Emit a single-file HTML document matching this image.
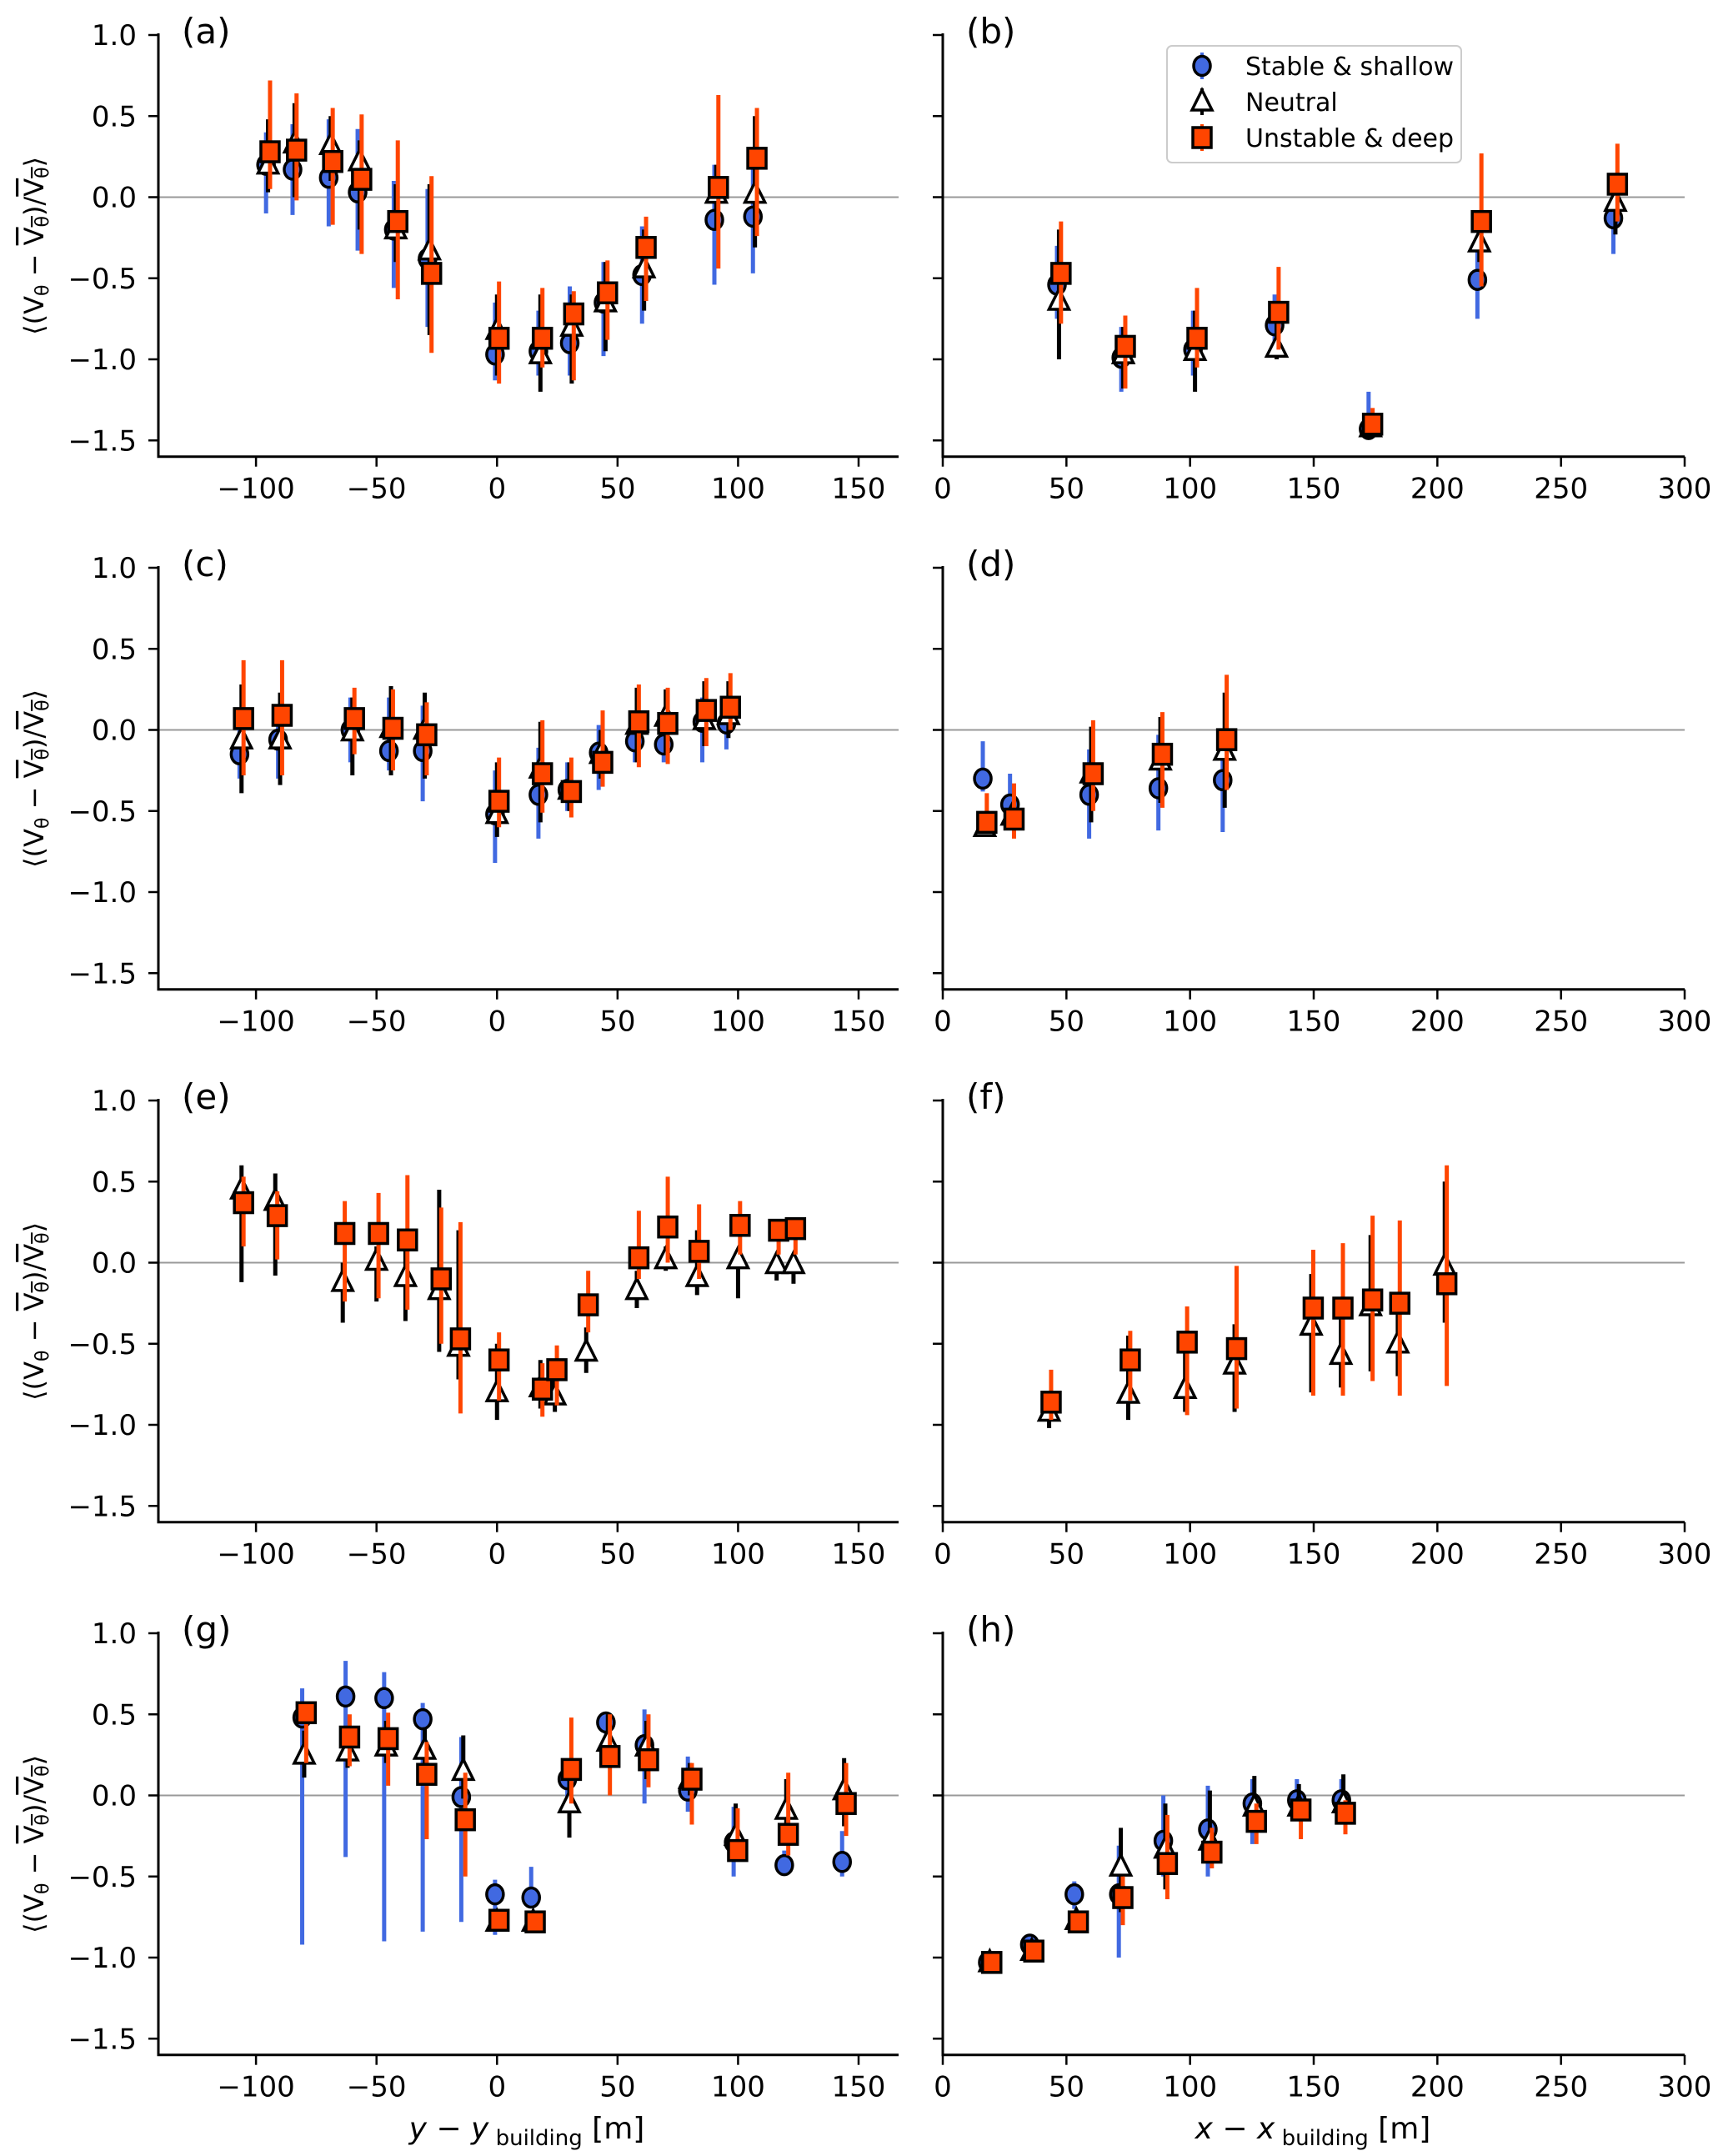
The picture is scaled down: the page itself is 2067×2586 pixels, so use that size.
<!DOCTYPE html>
<html><head><meta charset="utf-8"><style>
html,body{margin:0;padding:0;background:#fff}
svg{display:block;font-family:"DejaVu Sans","Liberation Sans",sans-serif}
</style></head><body>
<svg id="fig" width="2067" height="2586" viewBox="0 0 2067 2586" xmlns="http://www.w3.org/2000/svg"></svg>
<script>
// ---- data arrays ----
const aX = [-95,-84,-69,-57,-42,-28,0,18,31,45,61,91,107];
const aStY = [0.20,0.17,0.12,0.03,-0.20,-0.38,-0.97,-0.95,-0.90,-0.65,-0.48,-0.14,-0.12];
const aStLo = [-0.10,-0.11,-0.18,-0.33,-0.56,-0.80,-1.13,-1.10,-1.10,-0.98,-0.78,-0.54,-0.47];
const aStHi = [0.40,0.45,0.48,0.42,0.10,0.05,-0.65,-0.70,-0.55,-0.40,-0.18,0.20,0.20];
const aNeY = [0.20,0.33,0.32,0.22,-0.20,-0.33,-0.82,-0.97,-0.80,-0.65,-0.44,0.02,0.02];
const aNeLo = [0.03,0.0,0.10,-0.20,-0.40,-0.85,-1.10,-1.20,-1.15,-0.95,-0.70,-0.20,-0.31];
const aNeHi = [0.48,0.58,0.50,0.35,0.08,0.08,-0.60,-0.60,-0.60,-0.40,-0.20,0.20,0.50];
const aUnY = [0.28,0.29,0.22,0.11,-0.15,-0.47,-0.87,-0.87,-0.72,-0.59,-0.31,0.06,0.24];
const aUnLo = [0.05,-0.02,-0.17,-0.35,-0.63,-0.96,-1.15,-1.05,-1.13,-0.88,-0.64,-0.44,-0.24];
const aUnHi = [0.72,0.64,0.55,0.51,0.35,0.13,-0.52,-0.56,-0.58,-0.39,-0.12,0.63,0.55];

const bX = [47,73,102,135,173,217,272];
const bStY = [-0.54,-0.99,-0.94,-0.79,-1.43,-0.51,-0.13];
const bStLo = [-0.75,-1.20,-1.10,-0.90,-1.45,-0.75,-0.35];
const bStHi = [-0.30,-0.80,-0.70,-0.60,-1.20,-0.25,0.05];
const bNeY = [-0.64,-0.97,-0.95,-0.93,-1.42,-0.28,-0.03];
const bNeLo = [-1.00,-1.18,-1.20,-1.00,-1.45,-0.40,-0.23];
const bNeHi = [-0.20,-0.80,-0.70,-0.70,-1.40,-0.10,0.05];
const bUnY = [-0.47,-0.92,-0.87,-0.71,-1.40,-0.15,0.08];
const bUnLo = [-0.78,-1.18,-1.05,-0.94,-1.45,-0.55,-0.15];
const bUnHi = [-0.15,-0.73,-0.56,-0.43,-1.30,0.27,0.33];

const cX = [-106,-90,-60,-44,-30,0,18,30,43,58,70,86,96];
const cStY = [-0.15,-0.06,0.0,-0.13,-0.13,-0.52,-0.40,-0.37,-0.14,-0.07,-0.09,0.05,0.04];
const cStLo = [-0.30,-0.30,-0.20,-0.25,-0.44,-0.82,-0.67,-0.50,-0.37,-0.20,-0.20,-0.20,-0.12];
const cStHi = [0.0,0.05,0.20,0.20,0.15,-0.25,-0.11,-0.20,0.03,0.10,0.10,0.20,0.15];
const cNeY = [-0.06,-0.06,-0.01,0.01,0.0,-0.52,-0.24,-0.37,-0.15,0.03,0.08,0.06,0.09];
const cNeLo = [-0.39,-0.34,-0.28,-0.28,-0.30,-0.66,-0.57,-0.50,-0.30,-0.20,-0.15,-0.10,-0.05];
const cNeHi = [0.28,0.23,0.20,0.27,0.23,-0.20,0.05,-0.20,0.0,0.26,0.25,0.30,0.30];
const cUnY = [0.07,0.09,0.07,0.01,-0.03,-0.44,-0.27,-0.38,-0.20,0.05,0.04,0.12,0.14];
const cUnLo = [-0.28,-0.28,-0.15,-0.25,-0.28,-0.60,-0.51,-0.54,-0.35,-0.23,-0.21,-0.10,0.0];
const cUnHi = [0.43,0.43,0.26,0.25,0.17,-0.17,0.06,-0.17,0.12,0.28,0.26,0.32,0.35];

const dX = [17,28,60,88,114];
const dStY = [-0.30,-0.46,-0.40,-0.36,-0.31];
const dStLo = [-0.38,-0.60,-0.67,-0.62,-0.63];
const dStHi = [-0.07,-0.27,-0.12,-0.03,0.0];
const dNeY = [-0.60,-0.53,-0.27,-0.19,-0.13];
const dNeLo = [-0.62,-0.60,-0.57,-0.45,-0.48];
const dNeHi = [-0.58,-0.48,0.02,0.08,0.23];
const dUnY = [-0.57,-0.55,-0.27,-0.15,-0.06];
const dUnLo = [-0.62,-0.67,-0.50,-0.48,-0.37];
const dUnHi = [-0.39,-0.33,0.06,0.11,0.34];

const eX = [-106,-92,-64,-50,-38,-24,-16,0,18,24,37,58,70,83,100,116,123];
const eNeY = [0.45,0.38,-0.12,0.01,-0.09,-0.17,-0.52,-0.80,-0.77,-0.82,-0.55,-0.17,0.02,-0.09,0.02,-0.01,-0.01];
const eNeLo = [-0.12,-0.08,-0.37,-0.24,-0.36,-0.55,-0.72,-0.97,-0.90,-0.92,-0.68,-0.28,-0.05,-0.20,-0.22,-0.11,-0.13];
const eNeHi = [0.60,0.55,0.0,0.10,0.10,0.45,0.20,-0.50,-0.60,-0.70,-0.40,-0.05,0.10,0.20,0.0,0.05,0.02];
const eUnY = [0.37,0.29,0.18,0.18,0.14,-0.10,-0.47,-0.60,-0.78,-0.66,-0.26,0.03,0.22,0.07,0.23,0.20,0.21];
const eUnLo = [0.10,0.02,-0.24,-0.22,-0.29,-0.50,-0.93,-0.85,-0.95,-0.88,-0.43,-0.10,0.0,-0.10,0.05,0.05,0.05];
const eUnHi = [0.53,0.44,0.38,0.43,0.54,0.34,0.25,-0.43,-0.62,-0.51,-0.05,0.32,0.53,0.36,0.38,0.25,0.25];

const fX = [43,75,98,118,149,161,173,184,203];
const fNeY = [-0.92,-0.81,-0.78,-0.63,-0.39,-0.57,-0.27,-0.50,-0.02];
const fNeLo = [-1.02,-0.97,-0.92,-0.92,-0.80,-0.77,-0.67,-0.70,-0.37];
const fNeHi = [-0.90,-0.45,-0.50,-0.38,-0.07,-0.33,0.17,-0.30,0.50];
const fUnY = [-0.86,-0.60,-0.49,-0.53,-0.28,-0.28,-0.23,-0.25,-0.13];
const fUnLo = [-0.97,-0.85,-0.94,-0.90,-0.82,-0.82,-0.73,-0.82,-0.76];
const fUnHi = [-0.66,-0.42,-0.27,-0.02,0.08,0.12,0.29,0.26,0.60];

const gX = [-80,-62,-46,-30,-14,0,15,30,46,62,80,99,120,144];
const gStY = [0.48,0.61,0.60,0.47,-0.01,-0.61,-0.63,0.10,0.45,0.31,0.03,-0.29,-0.43,-0.41];
const gStLo = [-0.92,-0.38,-0.90,-0.84,-0.78,-0.86,-0.69,-0.10,0.38,-0.05,-0.10,-0.50,-0.41,-0.50];
const gStHi = [0.66,0.83,0.76,0.57,0.36,-0.52,-0.44,0.20,0.50,0.53,0.24,-0.07,-0.34,-0.22];
const gNeY = [0.25,0.27,0.30,0.28,0.15,-0.78,-0.78,-0.05,0.33,0.30,0.10,-0.25,-0.09,0.03];
const gNeLo = [0.11,0.17,0.20,0.12,-0.02,-0.80,-0.80,-0.26,0.25,0.10,0.0,-0.35,-0.30,-0.19];
const gNeHi = [0.40,0.40,0.46,0.42,0.37,-0.75,-0.75,0.12,0.50,0.46,0.20,-0.05,0.10,0.23];
const gUnY = [0.51,0.36,0.35,0.13,-0.15,-0.77,-0.78,0.16,0.24,0.22,0.10,-0.34,-0.24,-0.05];
const gUnLo = [0.20,0.18,0.06,-0.27,-0.50,-0.78,-0.79,-0.05,0.0,0.05,-0.18,-0.40,-0.37,-0.25];
const gUnHi = [0.53,0.50,0.51,0.33,0.14,-0.76,-0.77,0.48,0.50,0.50,0.20,-0.08,0.14,0.20];

const hX = [19,36,54,72,90,108,126,144,162];
const hStY = [-1.03,-0.92,-0.61,-0.61,-0.28,-0.21,-0.05,-0.03,-0.03];
const hStLo = [-1.05,-0.95,-0.70,-1.00,-0.50,-0.50,-0.30,-0.12,-0.12];
const hStHi = [-1.00,-0.90,-0.53,-0.31,0.0,0.06,0.10,0.10,0.10];
const hNeY = [-1.03,-0.96,-0.77,-0.44,-0.33,-0.28,-0.07,-0.07,-0.05];
const hNeLo = [-1.05,-0.98,-0.80,-0.72,-0.58,-0.40,-0.12,-0.10,-0.15];
const hNeHi = [-1.00,-0.94,-0.74,-0.20,-0.05,0.03,0.12,0.07,0.13];
const hUnY = [-1.03,-0.96,-0.78,-0.63,-0.42,-0.35,-0.16,-0.09,-0.11];
const hUnLo = [-1.05,-0.98,-0.82,-0.80,-0.64,-0.45,-0.30,-0.27,-0.24];
const hUnHi = [-1.00,-0.94,-0.75,-0.50,-0.12,-0.20,-0.05,-0.03,-0.03];

const yTicks = [1.0,0.5,0.0,-0.5,-1.0,-1.5];
const yTickLabels = ["1.0","0.5","0.0","\u22120.5","\u22121.0","\u22121.5"];
const xTicksL = [-100,-50,0,50,100,150];
const xTickLabelsL = ["\u2212100","\u221250","0","50","100","150"];
const xTicksR = [0,50,100,150,200,250,300];
const xTickLabelsR = ["0","50","100","150","200","250","300"];

// ---- drawing ----
const NS = "http://www.w3.org/2000/svg";
const svg = document.getElementById('fig');
function mk(tag, attrs, parent){
  const e = document.createElementNS(NS, tag);
  for (const k in attrs) e.setAttribute(k, attrs[k]);
  (parent||svg).appendChild(e);
  return e;
}
const BLUE="#4169e1", ORANGE="#ff4500";
const panels = [
 {id:'a',col:0,row:0,st:[aX,aStY,aStLo,aStHi],ne:[aX,aNeY,aNeLo,aNeHi],un:[aX,aUnY,aUnLo,aUnHi]},
 {id:'b',col:1,row:0,st:[bX,bStY,bStLo,bStHi],ne:[bX,bNeY,bNeLo,bNeHi],un:[bX,bUnY,bUnLo,bUnHi]},
 {id:'c',col:0,row:1,st:[cX,cStY,cStLo,cStHi],ne:[cX,cNeY,cNeLo,cNeHi],un:[cX,cUnY,cUnLo,cUnHi]},
 {id:'d',col:1,row:1,st:[dX,dStY,dStLo,dStHi],ne:[dX,dNeY,dNeLo,dNeHi],un:[dX,dUnY,dUnLo,dUnHi]},
 {id:'e',col:0,row:2,st:null,ne:[eX,eNeY,eNeLo,eNeHi],un:[eX,eUnY,eUnLo,eUnHi]},
 {id:'f',col:1,row:2,st:null,ne:[fX,fNeY,fNeLo,fNeHi],un:[fX,fUnY,fUnLo,fUnHi]},
 {id:'g',col:0,row:3,st:[gX,gStY,gStLo,gStHi],ne:[gX,gNeY,gNeLo,gNeHi],un:[gX,gUnY,gUnLo,gUnHi]},
 {id:'h',col:1,row:3,st:[hX,hStY,hStLo,hStHi],ne:[hX,hNeY,hNeLo,hNeHi],un:[hX,hUnY,hUnLo,hUnHi]},
];
const colGeom=[{l:190,r:1078,x0:-140.5,x1:166.6},{l:1131,r:2021,x0:0,x1:300}];
const UNIT=194.5;

function marker(g, kind, cx, cy){
  let m;
  if(kind==='st'){ m=mk('ellipse',{cx:cx,cy:cy,rx:10,ry:11.5,fill:BLUE,stroke:'#000','stroke-width':3.5},g); }
  else if(kind==='ne'){ m=mk('polygon',{points:`${cx},${cy-14} ${cx-12},${cy+10} ${cx+12},${cy+10}`,fill:'#fff',stroke:'#000','stroke-width':3.5,'stroke-linejoin':'miter'},g); }
  else { m=mk('rect',{x:cx-11,y:cy-12,width:22,height:24,fill:ORANGE,stroke:'#000','stroke-width':3.5},g); }
  return m;
}

panels.forEach(p=>{
  const cg=colGeom[p.col];
  const top=42+639*p.row, bot=top+2.6*UNIT;
  const xs=v=>cg.l+(v-cg.x0)/(cg.x1-cg.x0)*(cg.r-cg.l);
  const ys=v=>top+(1.0-v)*UNIT;
  const g=mk('g',{});
  
  
  const zl=mk('line',{x1:cg.l,x2:cg.r,y1:ys(0),y2:ys(0),stroke:'#999','stroke-width':2},g);
  
  
  const sp=mk('path',{d:`M${cg.l},${top-2} L${cg.l},${bot} L${cg.r},${bot}`,fill:'none',stroke:'#000','stroke-width':3},g);
  
  
  yTicks.forEach((t,i)=>{
    mk('line',{x1:cg.l-12,x2:cg.l,y1:ys(t),y2:ys(t),stroke:'#000','stroke-width':2.5},g);
    if(p.col===0){
      const tx=mk('text',{x:cg.l-26,y:ys(t)+12,'text-anchor':'end','font-size':34,fill:'#000'},g);
      tx.textContent=yTickLabels[i];
      
      
    }
  });
  const xt=p.col===0?xTicksL:xTicksR, xl=p.col===0?xTickLabelsL:xTickLabelsR;
  xt.forEach((t,i)=>{
    mk('line',{x1:xs(t),x2:xs(t),y1:bot,y2:bot+12,stroke:'#000','stroke-width':2.5},g);
    const tx=mk('text',{x:xs(t),y:bot+50,'text-anchor':'middle','font-size':34,fill:'#000'},g);
    tx.textContent=xl[i];
    
    
  });
  const lt=mk('text',{x:cg.l+28,y:top+10,'font-size':42,fill:'#000'},g);
  lt.textContent='('+p.id+')';
  
  
  [['st',BLUE,-1.2,5],['ne','#000',0,5],['un',ORANGE,1.2,5]].forEach(([k,col,off,w])=>{
    const s=p[k]; if(!s) return;
    const sg=mk('g',{},g);
    
    
    const [X,Y,LO,HI]=s;
    X.forEach((xv,i)=>{
      const cx=xs(xv)+off*2;
      const eb=mk('line',{x1:cx,x2:cx,y1:ys(LO[i]),y2:ys(HI[i]),stroke:col,'stroke-width':w},sg);
      
      
      const m=marker(sg,k,cx,ys(Y[i]));
      
      
    });
  });
  if(p.col===0){
    const cy=(top+bot)/2;
    const yl=mk('text',{x:0,y:0,transform:`translate(52,${cy}) rotate(-90)`,'text-anchor':'middle','font-size':32,fill:'#000'},g);
    
    
    yl.innerHTML='\u27E8(V<tspan font-size="22" dy="6">\u03B8</tspan><tspan dy="-6"> \u2212 </tspan><tspan style="text-decoration:overline">V<tspan font-size="22" dy="6">\u03B8</tspan></tspan><tspan dy="-6">)/</tspan><tspan style="text-decoration:overline">V<tspan font-size="22" dy="6">\u03B8</tspan></tspan><tspan dy="-6">\u27E9</tspan>';
  }
});

const xl1=mk('text',{x:632,y:2565,'text-anchor':'middle','font-size':36,fill:'#000'});


xl1.innerHTML='<tspan font-style="italic">y</tspan> \u2212 <tspan font-style="italic">y</tspan><tspan font-size="26" dy="8"> building</tspan><tspan dy="-8"> [m]</tspan>';
const xl2=mk('text',{x:1575,y:2565,'text-anchor':'middle','font-size':36,fill:'#000'});


xl2.innerHTML='<tspan font-style="italic">x</tspan> \u2212 <tspan font-style="italic">x</tspan><tspan font-size="26" dy="8"> building</tspan><tspan dy="-8"> [m]</tspan>';

const lg=mk('g',{});


mk('rect',{x:1400,y:55,width:353,height:140,rx:6,fill:'#fff','fill-opacity':0.85,stroke:'#ccc','stroke-width':2},lg);
[['st','Stable & shallow',BLUE,79],['ne','Neutral','#000',122],['un','Unstable & deep',ORANGE,165]].forEach(([k,t,c,y])=>{
  const e=mk('g',{},lg);
  
  
  mk('line',{x1:1442,x2:1442,y1:y-16,y2:y+16,stroke:c,'stroke-width':4},e);
  marker(e,k,1442,y);
  const tx=mk('text',{x:1494,y:y+11,'font-size':30,fill:'#000'},e);
  tx.textContent=t;
});
</script>
</body></html>
